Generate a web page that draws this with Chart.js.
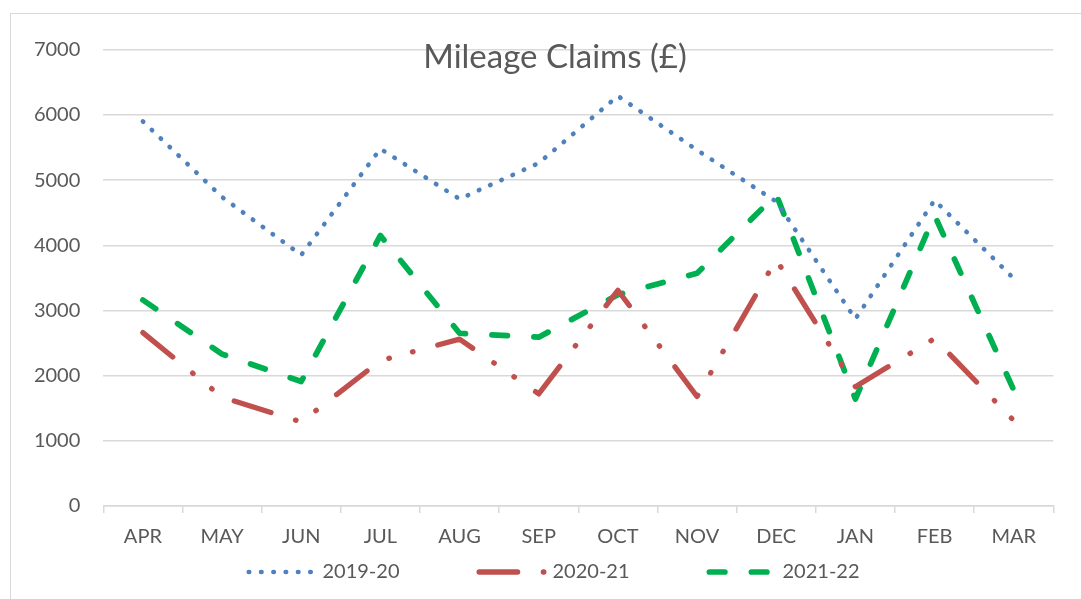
<!DOCTYPE html>
<html>
<head>
<meta charset="utf-8">
<title>Mileage Claims</title>
<script src="https://cdn.jsdelivr.net/npm/chart.js@4.4.0/dist/chart.umd.min.js"></script>
<style>
  html, body { margin: 0; padding: 0; background: #fff; }
  #wrap { position: relative; width: 1081px; height: 599px; overflow: hidden; }
  #frame { position: absolute; left: 10px; top: 13px; width: 1200px; height: 700px; border: 1px solid #d9d9d9; }
  #chart { position: absolute; left: 0; top: 0; }
</style>
</head>
<body>
<div id="wrap">
  <div id="frame"></div>
  <canvas id="chart" width="1081" height="599"></canvas>
</div>
<script>
// ---------- Data ----------
const months = ['APR', 'MAY', 'JUN', 'JUL', 'AUG', 'SEP', 'OCT', 'NOV', 'DEC', 'JAN', 'FEB', 'MAR'];
const claims1920 = [5900, 4740, 3850, 5480, 4710, 5260, 6290, 5460, 4670, 2870, 4690, 3490];
const claims2021 = [2660, 1670, 1290, 2230, 2560, 1720, 3310, 1680, 3780, 1830, 2570, 1310];
const claims2122 = [3160, 2330, 1910, 4150, 2650, 2590, 3240, 3570, 4780, 1640, 4460, 1780];
const yTicks = { min: 0, max: 7000, step: 1000 };

const TEXT = '#595959';
const GRID = '#d9d9d9';
const FONT = 'Lato';

// ---------- Title & legend (drawn over the plot like in Excel) ----------
const overlayPlugin = {
  id: 'overlay',
  afterDraw(chart) {
    const ctx = chart.ctx;
    ctx.save();
    // title
    ctx.fillStyle = TEXT;
    ctx.font = `33px ${FONT}`;
    ctx.textAlign = 'center';
    ctx.textBaseline = 'alphabetic';
    ctx.fillText('Mileage Claims (£)', 555, 68);

    // legend
    ctx.font = `20px ${FONT}`;
    ctx.textAlign = 'left';
    ctx.textBaseline = 'middle';
    const sets = chart.data.datasets;
    const toText = 76, itemGap = 77, y = 572;
    const widths = sets.map(d => ctx.measureText(d.label).width);
    const total = widths.reduce((a, w) => a + toText + w, 0) + itemGap * (sets.length - 1);
    let x = 553 - total / 2;
    sets.forEach((d, i) => {
      ctx.save();
      ctx.strokeStyle = d.borderColor;
      ctx.lineWidth = d.borderWidth;
      ctx.lineCap = 'round';
      ctx.setLineDash(d.borderDash);
      ctx.beginPath();
      ctx.moveTo(x + d.borderWidth / 2, y);
      ctx.lineTo(x + d.borderWidth / 2 + d.sampleLen, y);
      ctx.stroke();
      ctx.restore();
      ctx.fillStyle = TEXT;
      ctx.fillText(d.label, x + toText, y);
      x += toText + widths[i] + itemGap;
    });
    ctx.restore();
  }
};

// ---------- Chart ----------
function lineSet(label, data, color, width, dash, sampleLen) {
  return {
    label, data,
    borderColor: color,
    backgroundColor: color,
    borderWidth: width,
    borderDash: dash,
    borderCapStyle: 'round',
    borderJoinStyle: 'round',
    pointRadius: 0,
    pointHoverRadius: 0,
    tension: 0,
    fill: false,
    sampleLen
  };
}

new Chart(document.getElementById('chart'), {
  type: 'line',
  data: {
    labels: months,
    datasets: [
      lineSet('2019-20', claims1920, '#4f81bd', 4.6, [0.5, 11.8], 62),
      lineSet('2020-21', claims2021, '#c0504d', 5.3, [38.5, 25.7, 0.5, 24, 0.5, 25.7], 66),
      lineSet('2021-22', claims2122, '#00b050', 5.7, [15.5, 26.5], 58)
    ]
  },
  options: {
    responsive: false,
    animation: false,
    events: [],
    layout: { padding: { left: 0, right: 27.7, top: 49.7, bottom: 43 } },
    plugins: {
      legend: { display: false },
      title: { display: false },
      tooltip: { enabled: false }
    },
    scales: {
      x: {
        offset: true,
        grid: { offset: true, drawOnChartArea: false, drawTicks: true, tickLength: 7, color: GRID, lineWidth: 1.5 },
        border: { display: true, color: GRID, width: 1.5 },
        ticks: { color: TEXT, font: { family: FONT, size: 20 }, padding: 12, maxRotation: 0, autoSkip: false },
        afterFit: s => { s.height = 50; }
      },
      y: {
        min: yTicks.min,
        max: yTicks.max,
        grid: { color: GRID, lineWidth: 1.5, drawTicks: false },
        border: { display: false },
        ticks: {
          stepSize: yTicks.step, color: TEXT, font: { family: FONT, size: 20 }, padding: 23,
          callback: v => String(v)
        },
        afterFit: s => { s.width = 103.3; }
      }
    }
  },
  plugins: [overlayPlugin]
});
</script>
</body>
</html>
